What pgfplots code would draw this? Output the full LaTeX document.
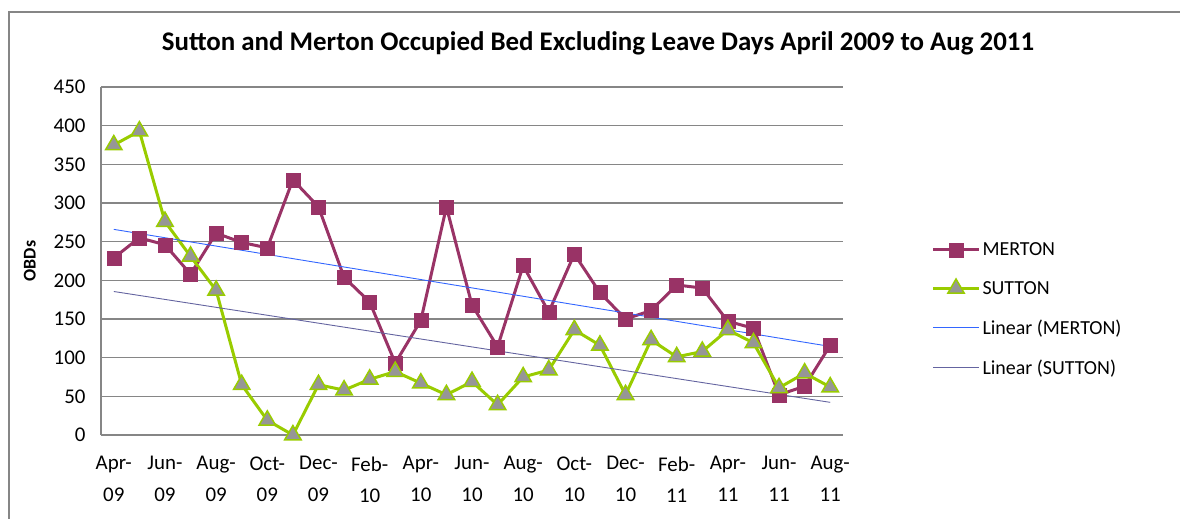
\documentclass[border=0pt]{standalone}
\usepackage{pgfplots}
\usepackage{pgfplotstable}
\pgfplotsset{compat=1.18}
\usepackage{fontspec}
\setmainfont{Carlito}
\definecolor{merton}{RGB}{153,51,102}
\definecolor{sutton}{RGB}{153,204,0}
\definecolor{mgray}{RGB}{150,150,150}
\definecolor{gridc}{RGB}{134,134,134}
\definecolor{trendm}{RGB}{51,102,255}
\definecolor{trends}{RGB}{100,100,160}
\pgfplotstableread{
idx merton sutton
0 229 375
1 255 393
2 246 276
3 208 231
4 261 187
5 249 65
6 242 19
7 330 0
8 295 65
9 204 58
10 172 72
11 93 82
12 148 67
13 295 52
14 168 69
15 114 39
16 219 75
17 159 84
18 234 136
19 184 116
20 150 52
21 161 123
22 194 101
23 190 108
24 147 136
25 138 119
26 52 61
27 63 80
28 116 62
}\datatable
\begin{document}
\begin{tikzpicture}
\path[use as bounding box] (0bp,0bp) rectangle (1180bp,519bp);
\draw[gridc, line width=1.2bp] (9bp,-5bp) -- (9bp,507bp) -- (1185bp,507bp);
\node[font=\fontsize{27}{30}\selectfont\bfseries] at (598bp,476bp) {Sutton and Merton Occupied Bed Excluding Leave Days April 2009 to Aug 2011};
\begin{axis}[
  at={(101bp,84bp)}, anchor=south west,
  width=742bp, height=348bp, scale only axis,
  xmin=-0.5, xmax=28.5, ymin=0, ymax=450,
  ytick={0,50,...,450},
  xtick={0,2,...,28},
  xticklabels={{Apr-\\09},{Jun-\\09},{Aug-\\09},{Oct-\\09},{Dec-\\09},{Feb-\\10},{Apr-\\10},{Jun-\\10},{Aug-\\10},{Oct-\\10},{Dec-\\10},{Feb-\\11},{Apr-\\11},{Jun-\\11},{Aug-\\11}},
  xticklabel style={align=center, font=\fontsize{21}{32}\selectfont, yshift=-18bp},
  yticklabel style={font=\fontsize{21}{22}\selectfont, xshift=-12bp},
  /pgf/number format/assume math mode=true,
  major tick length=0pt,
  ymajorgrids, grid style={gridc, line width=1.2bp},
  axis x line*=bottom, axis y line*=left,
  axis line style={gridc, line width=1.2bp, -},
  ylabel={\textbf{OBDs}},
  ylabel style={font=\fontsize{18}{22}\selectfont, at={(axis description cs:-0.096,0.5)}, anchor=center},
  clip=false,
  legend style={at={(1.115,0.565)}, anchor=north west, draw=none, fill=none,
    font=\fontsize{20}{22}\selectfont, row sep=20bp, cells={anchor=west},
    legend cell align=left},
  legend image code/.code={
    \draw[#1] (0bp,0bp) -- (23bp,0bp) -- (46bp,0bp);
    \draw[#1, only marks] plot coordinates {(23bp,0bp)};
  },
]
\addplot[merton, line width=3bp, mark=square*, mark size=7bp, mark options={fill=merton, draw=merton, line width=0.5bp}]
  table[x=idx, y=merton] {\datatable};
\addlegendentry{MERTON}
\addplot[sutton, line width=3bp, mark=triangle*, mark size=9.5bp, mark options={fill=mgray, draw=sutton, line width=1.5bp}]
  table[x=idx, y=sutton] {\datatable};
\addlegendentry{SUTTON}
\addplot[trendm, line width=0.9bp, no marks]
  table[x=idx, y={create col/linear regression={y=merton}}] {\datatable};
\addlegendentry{Linear (MERTON)}
\addplot[trends, line width=0.9bp, no marks]
  table[x=idx, y={create col/linear regression={y=sutton}}] {\datatable};
\addlegendentry{Linear (SUTTON)}
\end{axis}
\end{tikzpicture}
\end{document}
